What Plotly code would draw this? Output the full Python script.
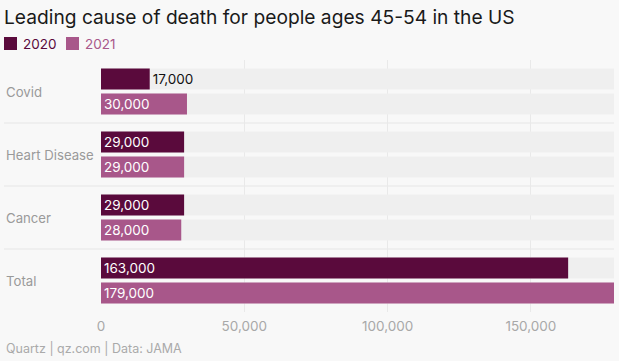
import plotly.graph_objects as go

categories = ["Covid", "Heart Disease", "Cancer", "Total"]
values_2020 = [17000, 29000, 29000, 163000]
values_2021 = [30000, 29000, 28000, 179000]
labels_2020 = ["17,000", "29,000", "29,000", "163,000"]
labels_2021 = ["30,000", "29,000", "28,000", "179,000"]
series_names = ["2020", "2021"]
tick_vals = [0, 50000, 100000, 150000]
tick_text = ["0", "50,000", "100,000", "150,000"]

C2020 = "#5a0a3c"
C2021 = "#a8578a"
BG = "#f8f8f8"
TRACK = "#efefef"
FONT = "Inter, Lato, sans-serif"

W, H = 619, 361
ML, MR, MT, MB = 101, 5, 60, 49
PW, PH = W - ML - MR, H - MT - MB


def px_x(x):
    return (x - ML) / PW


def px_y(y):
    return (H - MB - y) / PH


xmax = max(values_2020 + values_2021)

fig = go.Figure()
for grp, vals in (("a", values_2020), ("b", values_2021)):
    fig.add_trace(go.Bar(
        y=categories, x=[xmax] * len(vals), orientation="h",
        marker=dict(color=TRACK, line=dict(width=0)), offsetgroup=grp,
        showlegend=False, hoverinfo="skip"))

pos_2020 = ["outside" if v < 20000 else "inside" for v in values_2020]
pos_2021 = ["outside" if v < 20000 else "inside" for v in values_2021]

for grp, name, vals, labels, pos, col in (
        ("a", series_names[0], values_2020, labels_2020, pos_2020, C2020),
        ("b", series_names[1], values_2021, labels_2021, pos_2021, C2021)):
    fig.add_trace(go.Bar(
        y=categories, x=vals, orientation="h", offsetgroup=grp, name=name,
        marker=dict(color=col, line=dict(width=0)),
        text=labels, textposition=pos, insidetextanchor="start",
        insidetextfont=dict(color="white", size=13.5, family=FONT),
        outsidetextfont=dict(color="#111", size=13.5, family=FONT),
        cliponaxis=False, constraintext="none", hoverinfo="skip",
        showlegend=False))

for c in categories:
    fig.add_annotation(x=px_x(4), xref="paper", y=c, yref="y", text=c,
                       showarrow=False, xanchor="left",
                       font=dict(color="#9a9a9a", size=13.2, family=FONT))

# separators between category bands
for i in range(len(categories) - 1):
    fig.add_shape(type="line", xref="paper", yref="y", x0=px_x(4), x1=1,
                  y0=i + 0.5, y1=i + 0.5, line=dict(color="#e6e6e6", width=1),
                  layer="below")

# legend (manual, to match compact spacing)
for name, col, x0 in ((series_names[0], C2020, 4), (series_names[1], C2021, 66)):
    fig.add_shape(type="rect", xref="paper", yref="paper",
                  x0=px_x(x0), x1=px_x(x0 + 13), y0=px_y(50), y1=px_y(37),
                  fillcolor=col, line=dict(width=0))
    fig.add_annotation(x=px_x(x0 + 17), xref="paper", y=px_y(43.5), yref="paper",
                       text=name, showarrow=False, xanchor="left",
                       yanchor="middle",
                       font=dict(color=col, size=13.5, family=FONT))

fig.add_annotation(x=px_x(4), xref="paper", y=px_y(348),
                   yref="paper", yanchor="middle", xanchor="left",
                   text="Quartz | qz.com | Data: JAMA", showarrow=False,
                   font=dict(color="#aaaaaa", size=12.5, family=FONT))

fig.update_layout(
    width=W, height=H,
    margin=dict(l=ML, r=MR, t=MT, b=MB, autoexpand=False),
    paper_bgcolor=BG, plot_bgcolor=BG,
    barmode="group", bargap=0.206, bargroupgap=0.16,
    showlegend=False,
    title=dict(text="Leading cause of death for people ages 45-54 in the US",
               x=4 / W, xanchor="left", y=1 - 17 / H, yanchor="middle",
               font=dict(color="#1a1a1a", size=19.2, family=FONT)),
    xaxis=dict(range=[0, xmax], tickvals=tick_vals, ticktext=tick_text,
               showgrid=True, gridcolor="#e9e9e9", gridwidth=1, zeroline=False,
               tickfont=dict(color="#a8a8a8", size=13.5, family=FONT),
               showline=False, ticks="", ticklabelstandoff=4),
    yaxis=dict(autorange="reversed", showgrid=False, showticklabels=False,
               ticks="", zeroline=False, showline=False),
)

fig.write_html("out.html", config={"displayModeBar": False},
               post_script="document.body.style.margin='0';")
